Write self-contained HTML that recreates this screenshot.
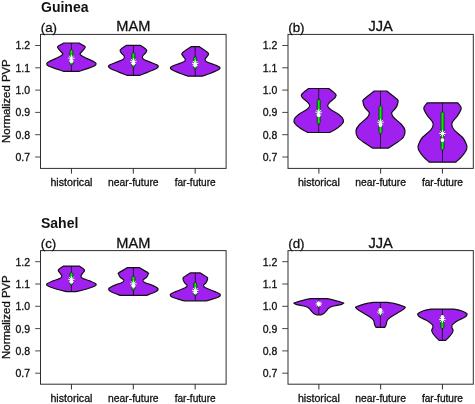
<!DOCTYPE html>
<html><head><meta charset="utf-8"><title>Normalized PVP violin plots</title>
<style>html,body{margin:0;padding:0;background:#fff}body{width:475px;height:404px;overflow:hidden}</style></head>
<body>
<svg width="475" height="404" viewBox="0 0 475 404" style="display:block;font-family:'Liberation Sans', Arial, Helvetica, sans-serif">
<rect width="475" height="404" fill="#fff"/>
<text x="41" y="11.6" font-size="14" font-weight="700" fill="#111">Guinea</text>
<text x="41" y="227.5" font-size="14" font-weight="700" fill="#111">Sahel</text>
<path d="M63.80 43.00C62.80 43.58 58.63 45.48 57.80 46.50C56.97 47.52 58.07 48.02 58.80 49.10C59.53 50.18 61.55 52.20 62.20 53.00C62.85 53.80 62.82 53.47 62.70 53.90C62.58 54.33 62.72 54.82 61.50 55.60C60.28 56.38 57.58 57.52 55.40 58.60C53.22 59.68 49.85 61.23 48.40 62.10C46.95 62.98 46.70 63.20 46.70 63.85C46.70 64.50 46.95 65.21 48.40 66.00C49.85 66.79 52.83 67.70 55.40 68.60C57.97 69.50 62.40 70.93 63.80 71.40L79.00 71.40C80.40 70.93 84.83 69.50 87.40 68.60C89.97 67.70 92.95 66.79 94.40 66.00C95.85 65.21 96.10 64.50 96.10 63.85C96.10 63.20 95.85 62.98 94.40 62.10C92.95 61.23 89.58 59.68 87.40 58.60C85.22 57.52 82.52 56.38 81.30 55.60C80.08 54.82 80.22 54.33 80.10 53.90C79.98 53.47 79.95 53.80 80.60 53.00C81.25 52.20 83.27 50.18 84.00 49.10C84.73 48.02 85.83 47.52 85.00 46.50C84.17 45.48 80.00 43.58 79.00 43.00Z" fill="#A020F0" stroke="#111" stroke-width="1.2" stroke-linejoin="round"/>
<line x1="71.40" y1="43.00" x2="71.40" y2="71.40" stroke="#1a0a25" stroke-width="0.9"/>
<rect x="69.90" y="49.80" width="3.0" height="15.20" rx="1.4" fill="#00EE00" stroke="#0c280a" stroke-width="0.8"/>
<circle cx="71.40" cy="61.20" r="1.9" fill="#fff"/>
<path d="M68.20 58.20 L74.60 58.20M69.14 55.94 L73.66 60.46M71.40 55.00 L71.40 61.40M73.66 55.94 L69.14 60.46" stroke="#fff" stroke-width="1" fill="none"/>
<path d="M126.30 45.40C125.30 46.15 121.13 48.65 120.30 49.90C119.47 51.15 120.63 51.83 121.30 52.90C121.97 53.97 123.97 55.23 124.30 56.30C124.63 57.37 124.87 58.22 123.30 59.30C121.73 60.38 117.30 61.77 114.90 62.80C112.50 63.83 109.72 64.60 108.90 65.50C108.08 66.40 108.50 67.17 110.00 68.20C111.50 69.23 115.05 70.50 117.90 71.70C120.75 72.90 125.57 74.78 127.10 75.40L139.70 75.40C141.23 74.78 146.05 72.90 148.90 71.70C151.75 70.50 155.30 69.23 156.80 68.20C158.30 67.17 158.72 66.40 157.90 65.50C157.08 64.60 154.30 63.83 151.90 62.80C149.50 61.77 145.07 60.38 143.50 59.30C141.93 58.22 142.17 57.37 142.50 56.30C142.83 55.23 144.83 53.97 145.50 52.90C146.17 51.83 147.33 51.15 146.50 49.90C145.67 48.65 141.50 46.15 140.50 45.40Z" fill="#A020F0" stroke="#111" stroke-width="1.2" stroke-linejoin="round"/>
<line x1="133.40" y1="45.40" x2="133.40" y2="75.40" stroke="#1a0a25" stroke-width="0.9"/>
<rect x="131.90" y="52.80" width="3.0" height="14.30" rx="1.4" fill="#00EE00" stroke="#0c280a" stroke-width="0.8"/>
<circle cx="133.40" cy="63.30" r="1.9" fill="#fff"/>
<path d="M130.20 61.30 L136.60 61.30M131.14 59.04 L135.66 63.56M133.40 58.10 L133.40 64.50M135.66 59.04 L131.14 63.56" stroke="#fff" stroke-width="1" fill="none"/>
<path d="M191.00 46.70C189.55 47.73 183.67 51.38 182.30 52.90C180.93 54.42 182.30 54.73 182.80 55.80C183.30 56.87 185.13 58.30 185.30 59.30C185.47 60.30 185.37 60.89 183.80 61.80C182.23 62.71 178.08 63.85 175.90 64.75C173.72 65.65 171.35 66.38 170.70 67.20C170.05 68.03 170.47 68.70 172.00 69.70C173.53 70.70 177.20 72.12 179.90 73.20C182.60 74.28 186.82 75.70 188.20 76.20L202.20 76.20C203.58 75.70 207.80 74.28 210.50 73.20C213.20 72.12 216.87 70.70 218.40 69.70C219.93 68.70 220.35 68.03 219.70 67.20C219.05 66.38 216.68 65.65 214.50 64.75C212.32 63.85 208.17 62.71 206.60 61.80C205.03 60.89 204.93 60.30 205.10 59.30C205.27 58.30 207.10 56.87 207.60 55.80C208.10 54.73 209.47 54.42 208.10 52.90C206.73 51.38 200.85 47.73 199.40 46.70Z" fill="#A020F0" stroke="#111" stroke-width="1.2" stroke-linejoin="round"/>
<line x1="195.20" y1="46.70" x2="195.20" y2="76.20" stroke="#1a0a25" stroke-width="0.9"/>
<rect x="193.70" y="56.90" width="3.0" height="12.00" rx="1.4" fill="#00EE00" stroke="#0c280a" stroke-width="0.8"/>
<circle cx="195.20" cy="65.20" r="1.9" fill="#fff"/>
<path d="M192.00 63.30 L198.40 63.30M192.94 61.04 L197.46 65.56M195.20 60.10 L195.20 66.50M197.46 61.04 L192.94 65.56" stroke="#fff" stroke-width="1" fill="none"/>
<rect x="40.50" y="34.40" width="185.60" height="134.00" fill="none" stroke="#2e2e2e" stroke-width="1"/>
<line x1="35.20" y1="45.50" x2="40.50" y2="45.50" stroke="#333" stroke-width="0.9"/>
<text x="30.10" y="49.40" font-size="10.5" text-anchor="end" fill="#111" stroke="#111" stroke-width="0.3">1.2</text>
<line x1="35.20" y1="67.80" x2="40.50" y2="67.80" stroke="#333" stroke-width="0.9"/>
<text x="30.10" y="71.70" font-size="10.5" text-anchor="end" fill="#111" stroke="#111" stroke-width="0.3">1.1</text>
<line x1="35.20" y1="90.10" x2="40.50" y2="90.10" stroke="#333" stroke-width="0.9"/>
<text x="30.10" y="94.00" font-size="10.5" text-anchor="end" fill="#111" stroke="#111" stroke-width="0.3">1.0</text>
<line x1="35.20" y1="112.40" x2="40.50" y2="112.40" stroke="#333" stroke-width="0.9"/>
<text x="30.10" y="116.30" font-size="10.5" text-anchor="end" fill="#111" stroke="#111" stroke-width="0.3">0.9</text>
<line x1="35.20" y1="134.70" x2="40.50" y2="134.70" stroke="#333" stroke-width="0.9"/>
<text x="30.10" y="138.60" font-size="10.5" text-anchor="end" fill="#111" stroke="#111" stroke-width="0.3">0.8</text>
<line x1="35.20" y1="157.00" x2="40.50" y2="157.00" stroke="#333" stroke-width="0.9"/>
<text x="30.10" y="160.90" font-size="10.5" text-anchor="end" fill="#111" stroke="#111" stroke-width="0.3">0.7</text>
<line x1="71.43" y1="168.40" x2="71.43" y2="173.60" stroke="#2e2e2e" stroke-width="1"/>
<text x="71.43" y="186.40" font-size="10.65" text-anchor="middle" fill="#111" stroke="#111" stroke-width="0.3">historical</text>
<line x1="133.30" y1="168.40" x2="133.30" y2="173.60" stroke="#2e2e2e" stroke-width="1"/>
<text x="133.30" y="186.40" font-size="10.35" text-anchor="middle" fill="#111" stroke="#111" stroke-width="0.3">near-future</text>
<line x1="195.17" y1="168.40" x2="195.17" y2="173.60" stroke="#2e2e2e" stroke-width="1"/>
<text x="195.17" y="186.40" font-size="10.1" text-anchor="middle" fill="#111" stroke="#111" stroke-width="0.3">far-future</text>
<text x="133.30" y="31.30" font-size="14.6" text-anchor="middle" fill="#111" stroke="#111" stroke-width="0.3">MAM</text>
<text x="40.80" y="32.20" font-size="13.3" fill="#111" stroke="#111" stroke-width="0.3">(a)</text>
<text transform="translate(10 101.10) rotate(-90)" font-size="11.4" text-anchor="middle" fill="#111" stroke="#111" stroke-width="0.3">Normalized PVP</text>
<path d="M308.50 88.50C307.37 89.45 302.73 92.68 301.70 94.20C300.67 95.72 301.28 96.23 302.30 97.60C303.32 98.97 306.55 101.03 307.80 102.40C309.05 103.77 309.92 104.67 309.80 105.80C309.68 106.93 309.02 107.72 307.10 109.20C305.18 110.68 300.45 113.00 298.30 114.70C296.15 116.40 294.77 117.93 294.20 119.40C293.63 120.87 293.88 122.02 294.90 123.50C295.92 124.98 298.15 126.80 300.30 128.30C302.45 129.80 306.55 131.80 307.80 132.50L329.60 132.50C330.85 131.80 334.95 129.80 337.10 128.30C339.25 126.80 341.48 124.98 342.50 123.50C343.52 122.02 343.77 120.87 343.20 119.40C342.63 117.93 341.25 116.40 339.10 114.70C336.95 113.00 332.22 110.68 330.30 109.20C328.38 107.72 327.72 106.93 327.60 105.80C327.48 104.67 328.35 103.77 329.60 102.40C330.85 101.03 334.08 98.97 335.10 97.60C336.12 96.23 336.73 95.72 335.70 94.20C334.67 92.68 330.03 89.45 328.90 88.50Z" fill="#A020F0" stroke="#111" stroke-width="1.2" stroke-linejoin="round"/>
<line x1="318.70" y1="88.50" x2="318.70" y2="132.50" stroke="#1a0a25" stroke-width="0.9"/>
<rect x="317.20" y="99.40" width="3.0" height="24.50" rx="1.4" fill="#00EE00" stroke="#0c280a" stroke-width="0.8"/>
<circle cx="318.70" cy="115.30" r="1.9" fill="#fff"/>
<path d="M315.50 112.20 L321.90 112.20M316.44 109.94 L320.96 114.46M318.70 109.00 L318.70 115.40M320.96 109.94 L316.44 114.46" stroke="#fff" stroke-width="1" fill="none"/>
<path d="M374.30 91.00C372.57 92.38 365.78 97.48 363.90 99.30C362.02 101.12 362.87 100.60 363.00 101.90C363.13 103.20 363.68 105.37 364.70 107.10C365.72 108.83 368.33 111.23 369.10 112.30C369.87 113.37 369.60 112.63 369.30 113.50C369.00 114.37 368.93 115.67 367.30 117.50C365.67 119.33 361.38 122.32 359.50 124.50C357.62 126.68 356.28 128.43 356.00 130.60C355.72 132.77 356.20 135.33 357.80 137.50C359.40 139.67 363.15 141.83 365.60 143.60C368.05 145.37 371.35 147.35 372.50 148.10L388.50 148.10C389.65 147.35 392.95 145.37 395.40 143.60C397.85 141.83 401.60 139.67 403.20 137.50C404.80 135.33 405.28 132.77 405.00 130.60C404.72 128.43 403.38 126.68 401.50 124.50C399.62 122.32 395.33 119.33 393.70 117.50C392.07 115.67 392.00 114.37 391.70 113.50C391.40 112.63 391.13 113.37 391.90 112.30C392.67 111.23 395.28 108.83 396.30 107.10C397.32 105.37 397.87 103.20 398.00 101.90C398.13 100.60 398.98 101.12 397.10 99.30C395.22 97.48 388.43 92.38 386.70 91.00Z" fill="#A020F0" stroke="#111" stroke-width="1.2" stroke-linejoin="round"/>
<line x1="380.50" y1="91.00" x2="380.50" y2="148.10" stroke="#1a0a25" stroke-width="0.9"/>
<rect x="379.00" y="105.80" width="3.0" height="27.80" rx="1.4" fill="#00EE00" stroke="#0c280a" stroke-width="0.8"/>
<circle cx="380.50" cy="125.00" r="1.9" fill="#fff"/>
<path d="M377.30 122.20 L383.70 122.20M378.24 119.94 L382.76 124.46M380.50 119.00 L380.50 125.40M382.76 119.94 L378.24 124.46" stroke="#fff" stroke-width="1" fill="none"/>
<path d="M427.30 102.80C426.77 103.52 424.63 105.95 424.10 107.10C423.57 108.25 423.52 108.25 424.10 109.70C424.68 111.15 426.30 113.92 427.60 115.80C428.90 117.68 430.97 119.55 431.90 121.00C432.83 122.45 433.33 123.05 433.20 124.50C433.07 125.95 432.90 127.53 431.10 129.70C429.30 131.87 424.48 135.05 422.40 137.50C420.32 139.95 419.32 142.82 418.60 144.40C417.88 145.98 418.05 145.98 418.10 147.00C418.15 148.02 418.03 148.90 418.90 150.50C419.77 152.10 421.57 154.65 423.30 156.60C425.03 158.55 428.30 161.27 429.30 162.20L455.70 162.20C456.70 161.27 459.97 158.55 461.70 156.60C463.43 154.65 465.23 152.10 466.10 150.50C466.97 148.90 466.85 148.02 466.90 147.00C466.95 145.98 467.12 145.98 466.40 144.40C465.68 142.82 464.68 139.95 462.60 137.50C460.52 135.05 455.70 131.87 453.90 129.70C452.10 127.53 451.93 125.95 451.80 124.50C451.67 123.05 452.17 122.45 453.10 121.00C454.03 119.55 456.10 117.68 457.40 115.80C458.70 113.92 460.32 111.15 460.90 109.70C461.48 108.25 461.43 108.25 460.90 107.10C460.37 105.95 458.23 103.52 457.70 102.80Z" fill="#A020F0" stroke="#111" stroke-width="1.2" stroke-linejoin="round"/>
<line x1="442.50" y1="102.80" x2="442.50" y2="162.20" stroke="#1a0a25" stroke-width="0.9"/>
<rect x="441.00" y="111.90" width="3.0" height="38.00" rx="1.4" fill="#00EE00" stroke="#0c280a" stroke-width="0.8"/>
<circle cx="442.50" cy="140.10" r="1.9" fill="#fff"/>
<path d="M439.30 133.50 L445.70 133.50M440.24 131.24 L444.76 135.76M442.50 130.30 L442.50 136.70M444.76 131.24 L440.24 135.76" stroke="#fff" stroke-width="1" fill="none"/>
<rect x="288.00" y="34.40" width="185.30" height="134.00" fill="none" stroke="#2e2e2e" stroke-width="1"/>
<line x1="282.20" y1="45.50" x2="288.00" y2="45.50" stroke="#333" stroke-width="0.9"/>
<text x="277.30" y="49.40" font-size="10.5" text-anchor="end" fill="#111" stroke="#111" stroke-width="0.3">1.2</text>
<line x1="282.20" y1="67.80" x2="288.00" y2="67.80" stroke="#333" stroke-width="0.9"/>
<text x="277.30" y="71.70" font-size="10.5" text-anchor="end" fill="#111" stroke="#111" stroke-width="0.3">1.1</text>
<line x1="282.20" y1="90.10" x2="288.00" y2="90.10" stroke="#333" stroke-width="0.9"/>
<text x="277.30" y="94.00" font-size="10.5" text-anchor="end" fill="#111" stroke="#111" stroke-width="0.3">1.0</text>
<line x1="282.20" y1="112.40" x2="288.00" y2="112.40" stroke="#333" stroke-width="0.9"/>
<text x="277.30" y="116.30" font-size="10.5" text-anchor="end" fill="#111" stroke="#111" stroke-width="0.3">0.9</text>
<line x1="282.20" y1="134.70" x2="288.00" y2="134.70" stroke="#333" stroke-width="0.9"/>
<text x="277.30" y="138.60" font-size="10.5" text-anchor="end" fill="#111" stroke="#111" stroke-width="0.3">0.8</text>
<line x1="282.20" y1="157.00" x2="288.00" y2="157.00" stroke="#333" stroke-width="0.9"/>
<text x="277.30" y="160.90" font-size="10.5" text-anchor="end" fill="#111" stroke="#111" stroke-width="0.3">0.7</text>
<line x1="318.88" y1="168.40" x2="318.88" y2="173.60" stroke="#2e2e2e" stroke-width="1"/>
<text x="318.88" y="186.40" font-size="10.65" text-anchor="middle" fill="#111" stroke="#111" stroke-width="0.3">historical</text>
<line x1="380.65" y1="168.40" x2="380.65" y2="173.60" stroke="#2e2e2e" stroke-width="1"/>
<text x="380.65" y="186.40" font-size="10.35" text-anchor="middle" fill="#111" stroke="#111" stroke-width="0.3">near-future</text>
<line x1="442.42" y1="168.40" x2="442.42" y2="173.60" stroke="#2e2e2e" stroke-width="1"/>
<text x="442.42" y="186.40" font-size="10.1" text-anchor="middle" fill="#111" stroke="#111" stroke-width="0.3">far-future</text>
<text x="380.65" y="31.30" font-size="14.6" text-anchor="middle" fill="#111" stroke="#111" stroke-width="0.3">JJA</text>
<text x="288.30" y="32.20" font-size="13.3" fill="#111" stroke="#111" stroke-width="0.3">(b)</text>
<path d="M63.60 266.10C62.73 266.73 59.10 268.87 58.40 269.90C57.70 270.93 58.83 271.32 59.40 272.30C59.97 273.28 61.65 274.80 61.80 275.80C61.95 276.80 61.78 277.45 60.30 278.30C58.82 279.15 55.13 279.97 52.90 280.90C50.67 281.83 47.63 283.02 46.90 283.90C46.17 284.78 46.83 285.32 48.50 286.20C50.17 287.08 53.92 288.28 56.90 289.20C59.88 290.12 64.82 291.28 66.40 291.70L76.40 291.70C77.98 291.28 82.92 290.12 85.90 289.20C88.88 288.28 92.63 287.08 94.30 286.20C95.97 285.32 96.63 284.78 95.90 283.90C95.17 283.02 92.13 281.83 89.90 280.90C87.67 279.97 83.98 279.15 82.50 278.30C81.02 277.45 80.85 276.80 81.00 275.80C81.15 274.80 82.83 273.28 83.40 272.30C83.97 271.32 85.10 270.93 84.40 269.90C83.70 268.87 80.07 266.73 79.20 266.10Z" fill="#A020F0" stroke="#111" stroke-width="1.2" stroke-linejoin="round"/>
<line x1="71.40" y1="266.10" x2="71.40" y2="291.70" stroke="#1a0a25" stroke-width="0.9"/>
<rect x="69.90" y="272.60" width="3.0" height="12.40" rx="1.4" fill="#00EE00" stroke="#0c280a" stroke-width="0.8"/>
<circle cx="71.40" cy="281.70" r="1.9" fill="#fff"/>
<path d="M68.20 279.30 L74.60 279.30M69.14 277.04 L73.66 281.56M71.40 276.10 L71.40 282.50M73.66 277.04 L69.14 281.56" stroke="#fff" stroke-width="1" fill="none"/>
<path d="M127.70 267.60C126.23 268.45 120.42 271.65 118.90 272.70C117.38 273.75 118.40 273.17 118.60 273.90C118.80 274.63 119.22 276.03 120.10 277.10C120.98 278.17 123.58 279.40 123.90 280.30C124.22 281.20 123.78 281.57 122.00 282.50C120.22 283.43 115.40 284.84 113.20 285.90C111.00 286.96 109.22 287.90 108.80 288.85C108.38 289.80 108.82 290.51 110.70 291.60C112.58 292.69 118.53 294.77 120.10 295.40L146.70 295.40C148.27 294.77 154.22 292.69 156.10 291.60C157.98 290.51 158.42 289.80 158.00 288.85C157.58 287.90 155.80 286.96 153.60 285.90C151.40 284.84 146.58 283.43 144.80 282.50C143.02 281.57 142.58 281.20 142.90 280.30C143.22 279.40 145.82 278.17 146.70 277.10C147.58 276.03 148.00 274.63 148.20 273.90C148.40 273.17 149.42 273.75 147.90 272.70C146.38 271.65 140.57 268.45 139.10 267.60Z" fill="#A020F0" stroke="#111" stroke-width="1.2" stroke-linejoin="round"/>
<line x1="133.40" y1="267.60" x2="133.40" y2="295.40" stroke="#1a0a25" stroke-width="0.9"/>
<rect x="131.90" y="276.20" width="3.0" height="13.80" rx="1.4" fill="#00EE00" stroke="#0c280a" stroke-width="0.8"/>
<circle cx="133.40" cy="285.90" r="1.9" fill="#fff"/>
<path d="M130.20 283.80 L136.60 283.80M131.14 281.54 L135.66 286.06M133.40 280.60 L133.40 287.00M135.66 281.54 L131.14 286.06" stroke="#fff" stroke-width="1" fill="none"/>
<path d="M190.25 272.90C189.19 273.59 185.11 276.05 183.90 277.05C182.69 278.05 182.88 277.96 183.00 278.90C183.12 279.84 183.92 281.63 184.60 282.70C185.28 283.77 187.00 284.45 187.10 285.30C187.20 286.15 187.10 286.75 185.20 287.80C183.30 288.85 178.15 290.50 175.70 291.60C173.25 292.70 171.02 293.45 170.50 294.40C169.98 295.35 170.37 296.23 172.60 297.30C174.83 298.37 182.02 300.22 183.90 300.80L206.70 300.80C208.58 300.22 215.77 298.37 218.00 297.30C220.23 296.23 220.62 295.35 220.10 294.40C219.58 293.45 217.35 292.70 214.90 291.60C212.45 290.50 207.30 288.85 205.40 287.80C203.50 286.75 203.40 286.15 203.50 285.30C203.60 284.45 205.32 283.77 206.00 282.70C206.68 281.63 207.48 279.84 207.60 278.90C207.72 277.96 207.91 278.05 206.70 277.05C205.49 276.05 201.41 273.59 200.35 272.90Z" fill="#A020F0" stroke="#111" stroke-width="1.2" stroke-linejoin="round"/>
<line x1="195.30" y1="272.90" x2="195.30" y2="300.80" stroke="#1a0a25" stroke-width="0.9"/>
<rect x="193.80" y="282.50" width="3.0" height="13.10" rx="1.4" fill="#00EE00" stroke="#0c280a" stroke-width="0.8"/>
<circle cx="195.30" cy="292.30" r="1.9" fill="#fff"/>
<path d="M192.10 290.40 L198.50 290.40M193.04 288.14 L197.56 292.66M195.30 287.20 L195.30 293.60M197.56 288.14 L193.04 292.66" stroke="#fff" stroke-width="1" fill="none"/>
<rect x="40.50" y="250.60" width="185.60" height="133.60" fill="none" stroke="#2e2e2e" stroke-width="1"/>
<line x1="35.20" y1="261.70" x2="40.50" y2="261.70" stroke="#333" stroke-width="0.9"/>
<text x="30.10" y="265.60" font-size="10.5" text-anchor="end" fill="#111" stroke="#111" stroke-width="0.3">1.2</text>
<line x1="35.20" y1="284.00" x2="40.50" y2="284.00" stroke="#333" stroke-width="0.9"/>
<text x="30.10" y="287.90" font-size="10.5" text-anchor="end" fill="#111" stroke="#111" stroke-width="0.3">1.1</text>
<line x1="35.20" y1="306.30" x2="40.50" y2="306.30" stroke="#333" stroke-width="0.9"/>
<text x="30.10" y="310.20" font-size="10.5" text-anchor="end" fill="#111" stroke="#111" stroke-width="0.3">1.0</text>
<line x1="35.20" y1="328.60" x2="40.50" y2="328.60" stroke="#333" stroke-width="0.9"/>
<text x="30.10" y="332.50" font-size="10.5" text-anchor="end" fill="#111" stroke="#111" stroke-width="0.3">0.9</text>
<line x1="35.20" y1="350.90" x2="40.50" y2="350.90" stroke="#333" stroke-width="0.9"/>
<text x="30.10" y="354.80" font-size="10.5" text-anchor="end" fill="#111" stroke="#111" stroke-width="0.3">0.8</text>
<line x1="35.20" y1="373.20" x2="40.50" y2="373.20" stroke="#333" stroke-width="0.9"/>
<text x="30.10" y="377.10" font-size="10.5" text-anchor="end" fill="#111" stroke="#111" stroke-width="0.3">0.7</text>
<line x1="71.43" y1="384.20" x2="71.43" y2="389.40" stroke="#2e2e2e" stroke-width="1"/>
<text x="71.43" y="402.20" font-size="10.65" text-anchor="middle" fill="#111" stroke="#111" stroke-width="0.3">historical</text>
<line x1="133.30" y1="384.20" x2="133.30" y2="389.40" stroke="#2e2e2e" stroke-width="1"/>
<text x="133.30" y="402.20" font-size="10.35" text-anchor="middle" fill="#111" stroke="#111" stroke-width="0.3">near-future</text>
<line x1="195.17" y1="384.20" x2="195.17" y2="389.40" stroke="#2e2e2e" stroke-width="1"/>
<text x="195.17" y="402.20" font-size="10.1" text-anchor="middle" fill="#111" stroke="#111" stroke-width="0.3">far-future</text>
<text x="133.30" y="247.50" font-size="14.6" text-anchor="middle" fill="#111" stroke="#111" stroke-width="0.3">MAM</text>
<text x="40.80" y="248.40" font-size="13.3" fill="#111" stroke="#111" stroke-width="0.3">(c)</text>
<text transform="translate(10 317.10) rotate(-90)" font-size="11.4" text-anchor="middle" fill="#111" stroke="#111" stroke-width="0.3">Normalized PVP</text>
<path d="M310.60 298.60C309.33 298.90 305.63 299.72 303.00 300.40C300.37 301.08 296.27 302.22 294.80 302.70C293.33 303.18 293.88 302.98 294.20 303.30C294.52 303.62 294.82 304.07 296.70 304.60C298.58 305.13 303.40 305.87 305.50 306.50C307.60 307.13 308.35 307.67 309.30 308.40C310.25 309.13 310.45 310.07 311.20 310.90C311.95 311.73 312.95 312.75 313.80 313.40C314.65 314.05 315.88 314.57 316.30 314.80L321.30 314.80C321.72 314.57 322.95 314.05 323.80 313.40C324.65 312.75 325.65 311.73 326.40 310.90C327.15 310.07 327.35 309.13 328.30 308.40C329.25 307.67 330.00 307.13 332.10 306.50C334.20 305.87 339.02 305.13 340.90 304.60C342.78 304.07 343.08 303.62 343.40 303.30C343.72 302.98 344.27 303.18 342.80 302.70C341.33 302.22 337.23 301.08 334.60 300.40C331.97 299.72 328.27 298.90 327.00 298.60Z" fill="#A020F0" stroke="#111" stroke-width="1.2" stroke-linejoin="round"/>
<line x1="318.80" y1="298.60" x2="318.80" y2="314.80" stroke="#1a0a25" stroke-width="0.9"/>
<rect x="317.30" y="302.40" width="3.0" height="4.70" rx="1.4" fill="#00EE00" stroke="#0c280a" stroke-width="0.8"/>
<circle cx="318.80" cy="303.90" r="1.9" fill="#fff"/>
<path d="M315.60 303.90 L322.00 303.90M316.54 301.64 L321.06 306.16M318.80 300.70 L318.80 307.10M321.06 301.64 L316.54 306.16" stroke="#fff" stroke-width="1" fill="none"/>
<path d="M373.50 302.40C371.92 302.68 366.85 303.38 364.00 304.10C361.15 304.82 357.77 306.10 356.40 306.70C355.03 307.30 355.58 307.22 355.80 307.70C356.02 308.18 356.33 308.65 357.70 309.60C359.07 310.55 361.90 312.13 364.00 313.40C366.10 314.67 368.72 316.05 370.30 317.20C371.88 318.35 372.77 319.05 373.50 320.30C374.23 321.55 374.28 323.53 374.70 324.70C375.12 325.87 375.78 326.87 376.00 327.30L384.80 327.30C385.02 326.87 385.68 325.87 386.10 324.70C386.52 323.53 386.57 321.55 387.30 320.30C388.03 319.05 388.92 318.35 390.50 317.20C392.08 316.05 394.70 314.67 396.80 313.40C398.90 312.13 401.73 310.55 403.10 309.60C404.47 308.65 404.78 308.18 405.00 307.70C405.22 307.22 405.77 307.30 404.40 306.70C403.03 306.10 399.65 304.82 396.80 304.10C393.95 303.38 388.88 302.68 387.30 302.40Z" fill="#A020F0" stroke="#111" stroke-width="1.2" stroke-linejoin="round"/>
<line x1="380.40" y1="302.40" x2="380.40" y2="327.30" stroke="#1a0a25" stroke-width="0.9"/>
<rect x="378.90" y="308.10" width="3.0" height="7.40" rx="1.4" fill="#00EE00" stroke="#0c280a" stroke-width="0.8"/>
<circle cx="380.40" cy="310.00" r="1.9" fill="#fff"/>
<path d="M377.20 312.10 L383.60 312.10M378.14 309.84 L382.66 314.36M380.40 308.90 L380.40 315.30M382.66 309.84 L378.14 314.36" stroke="#fff" stroke-width="1" fill="none"/>
<path d="M431.00 309.10C429.75 309.37 425.60 310.00 423.50 310.70C421.40 311.40 419.35 312.67 418.40 313.30C417.45 313.93 417.58 313.88 417.80 314.50C418.02 315.12 418.13 316.00 419.70 317.05C421.27 318.10 425.10 319.54 427.20 320.80C429.30 322.06 431.35 323.53 432.30 324.60C433.25 325.67 433.00 326.25 432.90 327.20C432.80 328.15 431.70 329.25 431.70 330.30C431.70 331.35 432.17 332.33 432.90 333.50C433.63 334.67 435.05 336.15 436.10 337.30C437.15 338.45 438.68 339.88 439.20 340.40L445.60 340.40C446.12 339.88 447.65 338.45 448.70 337.30C449.75 336.15 451.17 334.67 451.90 333.50C452.63 332.33 453.10 331.35 453.10 330.30C453.10 329.25 452.00 328.15 451.90 327.20C451.80 326.25 451.55 325.67 452.50 324.60C453.45 323.53 455.50 322.06 457.60 320.80C459.70 319.54 463.53 318.10 465.10 317.05C466.67 316.00 466.78 315.12 467.00 314.50C467.22 313.88 467.35 313.93 466.40 313.30C465.45 312.67 463.40 311.40 461.30 310.70C459.20 310.00 455.05 309.37 453.80 309.10Z" fill="#A020F0" stroke="#111" stroke-width="1.2" stroke-linejoin="round"/>
<line x1="442.40" y1="309.10" x2="442.40" y2="340.40" stroke="#1a0a25" stroke-width="0.9"/>
<rect x="440.90" y="314.90" width="3.0" height="13.70" rx="1.4" fill="#00EE00" stroke="#0c280a" stroke-width="0.8"/>
<circle cx="442.40" cy="317.00" r="1.9" fill="#fff"/>
<path d="M439.20 319.60 L445.60 319.60M440.14 317.34 L444.66 321.86M442.40 316.40 L442.40 322.80M444.66 317.34 L440.14 321.86" stroke="#fff" stroke-width="1" fill="none"/>
<rect x="288.00" y="250.60" width="185.30" height="133.60" fill="none" stroke="#2e2e2e" stroke-width="1"/>
<line x1="282.20" y1="261.70" x2="288.00" y2="261.70" stroke="#333" stroke-width="0.9"/>
<text x="277.30" y="265.60" font-size="10.5" text-anchor="end" fill="#111" stroke="#111" stroke-width="0.3">1.2</text>
<line x1="282.20" y1="284.00" x2="288.00" y2="284.00" stroke="#333" stroke-width="0.9"/>
<text x="277.30" y="287.90" font-size="10.5" text-anchor="end" fill="#111" stroke="#111" stroke-width="0.3">1.1</text>
<line x1="282.20" y1="306.30" x2="288.00" y2="306.30" stroke="#333" stroke-width="0.9"/>
<text x="277.30" y="310.20" font-size="10.5" text-anchor="end" fill="#111" stroke="#111" stroke-width="0.3">1.0</text>
<line x1="282.20" y1="328.60" x2="288.00" y2="328.60" stroke="#333" stroke-width="0.9"/>
<text x="277.30" y="332.50" font-size="10.5" text-anchor="end" fill="#111" stroke="#111" stroke-width="0.3">0.9</text>
<line x1="282.20" y1="350.90" x2="288.00" y2="350.90" stroke="#333" stroke-width="0.9"/>
<text x="277.30" y="354.80" font-size="10.5" text-anchor="end" fill="#111" stroke="#111" stroke-width="0.3">0.8</text>
<line x1="282.20" y1="373.20" x2="288.00" y2="373.20" stroke="#333" stroke-width="0.9"/>
<text x="277.30" y="377.10" font-size="10.5" text-anchor="end" fill="#111" stroke="#111" stroke-width="0.3">0.7</text>
<line x1="318.88" y1="384.20" x2="318.88" y2="389.40" stroke="#2e2e2e" stroke-width="1"/>
<text x="318.88" y="402.20" font-size="10.65" text-anchor="middle" fill="#111" stroke="#111" stroke-width="0.3">historical</text>
<line x1="380.65" y1="384.20" x2="380.65" y2="389.40" stroke="#2e2e2e" stroke-width="1"/>
<text x="380.65" y="402.20" font-size="10.35" text-anchor="middle" fill="#111" stroke="#111" stroke-width="0.3">near-future</text>
<line x1="442.42" y1="384.20" x2="442.42" y2="389.40" stroke="#2e2e2e" stroke-width="1"/>
<text x="442.42" y="402.20" font-size="10.1" text-anchor="middle" fill="#111" stroke="#111" stroke-width="0.3">far-future</text>
<text x="380.65" y="247.50" font-size="14.6" text-anchor="middle" fill="#111" stroke="#111" stroke-width="0.3">JJA</text>
<text x="288.30" y="248.40" font-size="13.3" fill="#111" stroke="#111" stroke-width="0.3">(d)</text>
</svg>
</body></html>
